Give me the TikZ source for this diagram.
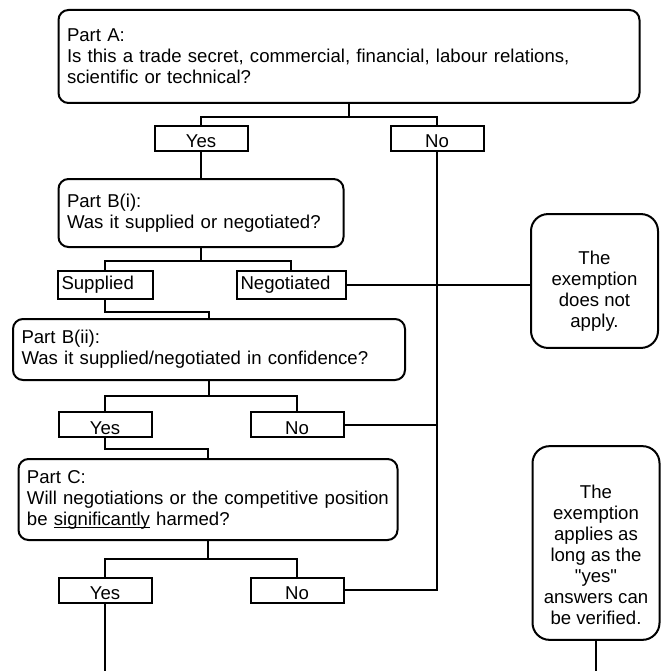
\documentclass[tikz,border=0pt]{standalone}
\usepackage{fontspec}
\setmainfont{Liberation Sans}[Ligatures=TeXOff]
\usetikzlibrary{positioning}

\newlength{\ulwd}
\newcommand{\ulword}[1]{\settowidth{\ulwd}{#1}\rlap{\rule[-2.6pt]{\ulwd}{1.1pt}}#1}

\begin{document}
\begin{tikzpicture}[x=1pt,y=-1pt,line width=2pt,
        every node/.style={font=\fontsize{18.6pt}{21pt}\selectfont},
        question/.style={rectangle,draw,rounded corners=10pt,align=left,inner xsep=8.5pt},
        answer/.style={rectangle,draw,minimum width=93pt,text height=19pt,text depth=0pt,inner ysep=3pt},
        choice/.style={rectangle,draw,minimum height=28pt,align=left,inner xsep=4pt},
        outcome/.style={rectangle,draw,rounded corners=17pt,align=center,minimum width=127pt,inner xsep=4pt},
        link/.style={line width=2pt}]
        \useasboundingbox (0,0) rectangle (662,671);

        \node at (349, 56.5) [question, text width=564pt, minimum height=93pt] (partA) {Part A:\\Is this a trade secret, commercial, financial, labour relations,\\scientific or technical?};
        \node at (201, 138.5) [answer] (yes1) {Yes};
        \node at (437, 138.5) [answer] (no1) {No};

        \node at (201, 213) [question, text width=268pt, minimum height=68pt] (partBi) {Part B(i):\\Was it supplied or negotiated?};
        \node at (105, 284.5) [choice, text width=87pt] (sup) {Supplied};
        \node at (291, 284.5) [choice, text width=101pt] (neg) {Negotiated};
        \node at (594.5, 281) [outcome, inner ysep=17pt] (noapply) {\rule{0pt}{33pt}The\\exemption\\does not\\apply.};

        \node at (209, 349.5) [question, text width=375pt, minimum height=61pt] (partBii) {Part B(ii):\\Was it supplied/negotiated in confidence?};
        \node at (105, 424.5) [answer] (yes2) {Yes};
        \node at (297, 424.5) [answer] (no2) {No};

        \node at (208, 499.5) [question, text width=362pt, minimum height=81pt] (partC) {Part C:\\Will negotiations or the competitive position\\be \ulword{significantly} harmed?};
        \node at (105, 590) [answer] (yes3) {Yes};
        \node at (297, 590) [answer] (no3) {No};
        \node at (596, 543) [outcome, inner ysep=15pt] (verified) {\rule{0pt}{37.5pt}The\\exemption\\applies as\\long as the\\"yes"\\answers can\\be verified.};

        \coordinate (yesend) at (105, 672);
        \coordinate (verend) at (596, 672);

        \draw[link]
                (partA.south)   -- ++(0,13) -| (yes1.north)
                (partA.south)   -- ++(0,13) -| (no1.north)
                (yes1.south)    -- (yes1.south |- partBi.north)
                (partBi.south)  -- ++(0,13) -| (sup.north)
                (partBi.south)  -- ++(0,13) -| (neg.north)
                (sup.south)     -- ++(0,12) -| (partBii.north)
                (partBii.south) -- ++(0,15) -| (yes2.north)
                (partBii.south) -- ++(0,15) -| (no2.north)
                (yes2.south)    -- ++(0,11) -| (partC.north)
                (partC.south)   -- ++(0,18) -| (yes3.north)
                (partC.south)   -- ++(0,18) -| (no3.north)

                (neg.east)      -- (neg.east -| noapply.west)
                (no2.east)      -- (no2.east -| no1.south)
                (no1.south)     |- (no3.east)
                (yes3.south)    -- (yesend)
                (verified.south) -- (verend)
            ;

\end{tikzpicture}
\end{document}
